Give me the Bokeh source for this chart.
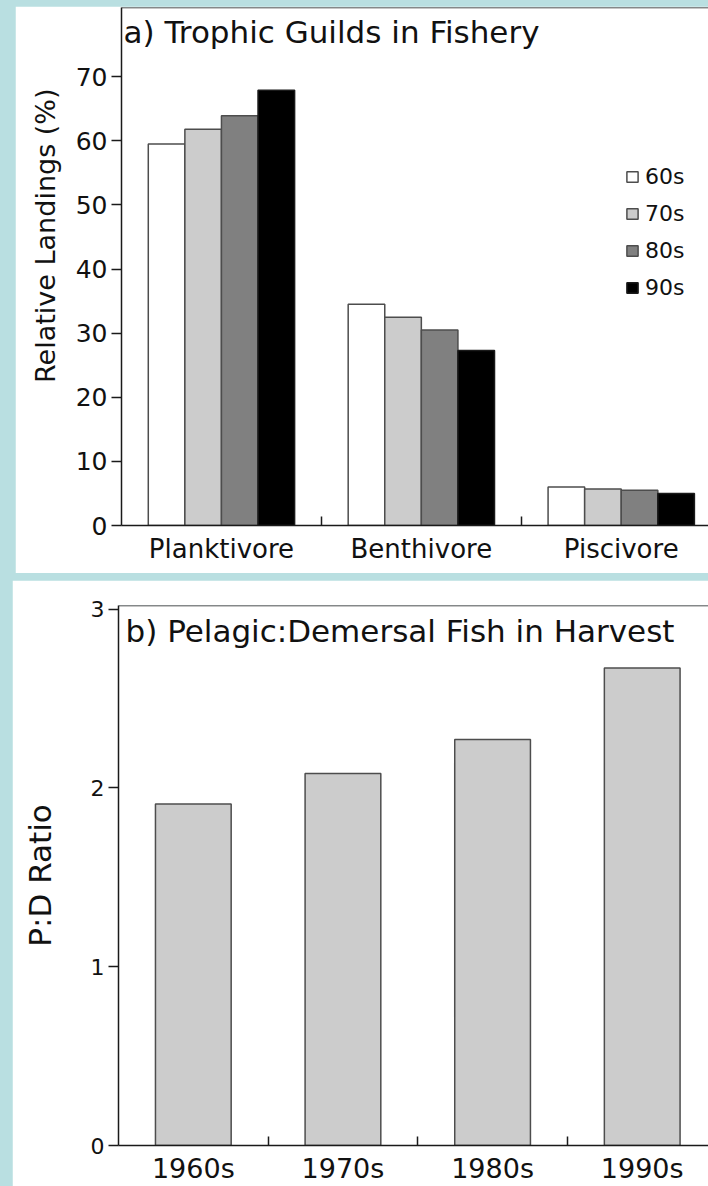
from bokeh.plotting import figure
from bokeh.models import Range1d, FixedTicker, Label, Legend, LegendItem, Span, ColumnDataSource, Title
from bokeh.layouts import column
from bokeh.embed import file_html
from bokeh.resources import INLINE

# ---- data -------------------------------------------------------------
guilds = ["Planktivore", "Benthivore", "Piscivore"]
decades = ["60s", "70s", "80s", "90s"]
landings_60s = [59.5, 34.5, 6.0]
landings_70s = [61.8, 32.5, 5.7]
landings_80s = [63.9, 30.5, 5.5]
landings_90s = [67.9, 27.3, 5.0]

harvest_decades = ["1960s", "1970s", "1980s", "1990s"]
pd_ratio = [1.91, 2.08, 2.27, 2.67]

landing_ticks = [0, 10, 20, 30, 40, 50, 60, 70]
ratio_ticks = [0, 1, 2, 3]

# ---- style ------------------------------------------------------------
FONT = "DejaVu Sans"
BG = "#b9dfe1"
INK = "#1a1a1a"
EDGE = "#4d4d4d"
decade_fills = ["#ffffff", "#cccccc", "#808080", "#000000"]


def style_axes(p, xticks, xlabels, xminor, ytick_size, xtick_size, xstandoff):
    p.outline_line_color = None
    p.xgrid.visible = False
    p.ygrid.visible = False
    p.background_fill_color = "white"
    p.border_fill_color = "white"
    for ax in p.axis:
        ax.axis_line_color = INK
        ax.axis_line_width = 1.5
        ax.major_tick_line_color = INK
        ax.major_tick_line_width = 1.5
        ax.minor_tick_line_color = INK
        ax.minor_tick_line_width = 1.5
        ax.major_label_text_font = FONT
        ax.major_label_text_color = "#111111"
        ax.axis_label_text_font = FONT
        ax.axis_label_text_font_style = "normal"
        ax.axis_label_text_color = "#111111"
    xa = p.xaxis[0]
    xa.ticker = FixedTicker(ticks=xticks, minor_ticks=xminor)
    xa.major_label_overrides = {t: lab for t, lab in zip(xticks, xlabels)}
    xa.major_tick_in = 0
    xa.major_tick_out = 0
    xa.minor_tick_in = 9
    xa.minor_tick_out = 0
    xa.major_label_standoff = xstandoff
    xa.major_label_text_font_size = xtick_size
    ya = p.yaxis[0]
    ya.major_tick_in = 0
    ya.major_tick_out = 10
    ya.minor_tick_in = 0
    ya.minor_tick_out = 0
    ya.major_label_standoff = 4
    ya.major_label_text_font_size = ytick_size


# ---- a) trophic guilds --------------------------------------------------
A_TOP = 80.8
A_XEND = 2.9365
BAR_A = 0.183

pa = figure(width=693, height=567, output_backend="svg", toolbar_location=None,
            x_range=Range1d(0, A_XEND), y_range=Range1d(0, A_TOP),
            min_border_left=106, min_border_right=0, min_border_top=1,
            min_border_bottom=48, margin=(6, 0, 0, 15))

series = [landings_60s, landings_70s, landings_80s, landings_90s]
items = []
for j, (dec, vals, fill) in enumerate(zip(decades, series, decade_fills)):
    xs = [i + 0.5 + (j - 1.5) * BAR_A for i in range(len(guilds))]
    src = ColumnDataSource(dict(x=xs, top=vals, guild=guilds))
    r = pa.vbar(x="x", top="top", bottom=0, width=BAR_A, source=src,
                fill_color=fill, line_color=EDGE if j < 3 else INK, line_width=1.5)
    items.append(LegendItem(label=dec, renderers=[r]))

style_axes(pa, [i + 0.5 for i in range(len(guilds))], guilds,
           [i for i in range(1, len(guilds))], "25px", "26px", 8)
pa.yaxis[0].ticker = FixedTicker(ticks=landing_ticks)

# vertical axis title, anchored near the top of the frame
pa.add_layout(Title(text="Relative Landings (%)", align="right", offset=81,
                    text_font=FONT, text_font_size="27px", text_font_style="normal",
                    text_color="#111111", standoff=24), "left")

pa.add_layout(Span(location=A_TOP, dimension="width", line_color=INK, line_width=1.5))
pa.add_layout(Label(x=2, y=494, x_units="screen", y_units="screen",
                    text="a) Trophic Guilds in Fishery", text_font=FONT,
                    text_font_size="31px", text_baseline="middle", text_color="#111111"))

legend = Legend(items=items, location=(504, 225), glyph_width=14, glyph_height=13,
                label_text_font=FONT, label_text_font_size="22px", label_text_color="#111111",
                label_standoff=6, label_height=26, spacing=11, padding=0, margin=0,
                border_line_color=None, background_fill_alpha=0)
pa.add_layout(legend)

# ---- b) pelagic : demersal ratio ---------------------------------------
B_TOP = 3.02
B_XEND = 3.943
BAR_B = 0.506

pb = figure(width=696, height=606, output_backend="svg", toolbar_location=None,
            x_range=Range1d(0, B_XEND), y_range=Range1d(0, B_TOP),
            min_border_left=103, min_border_right=0, min_border_top=25,
            min_border_bottom=38, margin=(7, 0, 0, 12))

src_b = ColumnDataSource(dict(x=[i + 0.5 for i in range(len(harvest_decades))],
                              top=pd_ratio, decade=harvest_decades))
pb.vbar(x="x", top="top", bottom=0, width=BAR_B, source=src_b,
        fill_color="#cccccc", line_color=EDGE, line_width=1.5)

style_axes(pb, [i + 0.5 for i in range(len(harvest_decades))], harvest_decades,
           [i for i in range(1, len(harvest_decades))], "22px", "27px", 7)
pb.yaxis[0].ticker = FixedTicker(ticks=ratio_ticks)
pb.yaxis[0].axis_label = "P:D Ratio"
pb.yaxis[0].axis_label_text_font_size = "31px"
pb.yaxis[0].axis_label_standoff = 30

pb.add_layout(Span(location=B_TOP, dimension="width", line_color=INK, line_width=1.5))
pb.add_layout(Label(x=7, y=515, x_units="screen", y_units="screen",
                    text="b) Pelagic:Demersal Fish in Harvest", text_font=FONT,
                    text_font_size="31px", text_baseline="middle", text_color="#111111"))

layout = column(pa, pb, width=708, height=1186, spacing=0,
                styles={"background-color": BG})

open("out.html", "w").write(file_html(layout, INLINE))
